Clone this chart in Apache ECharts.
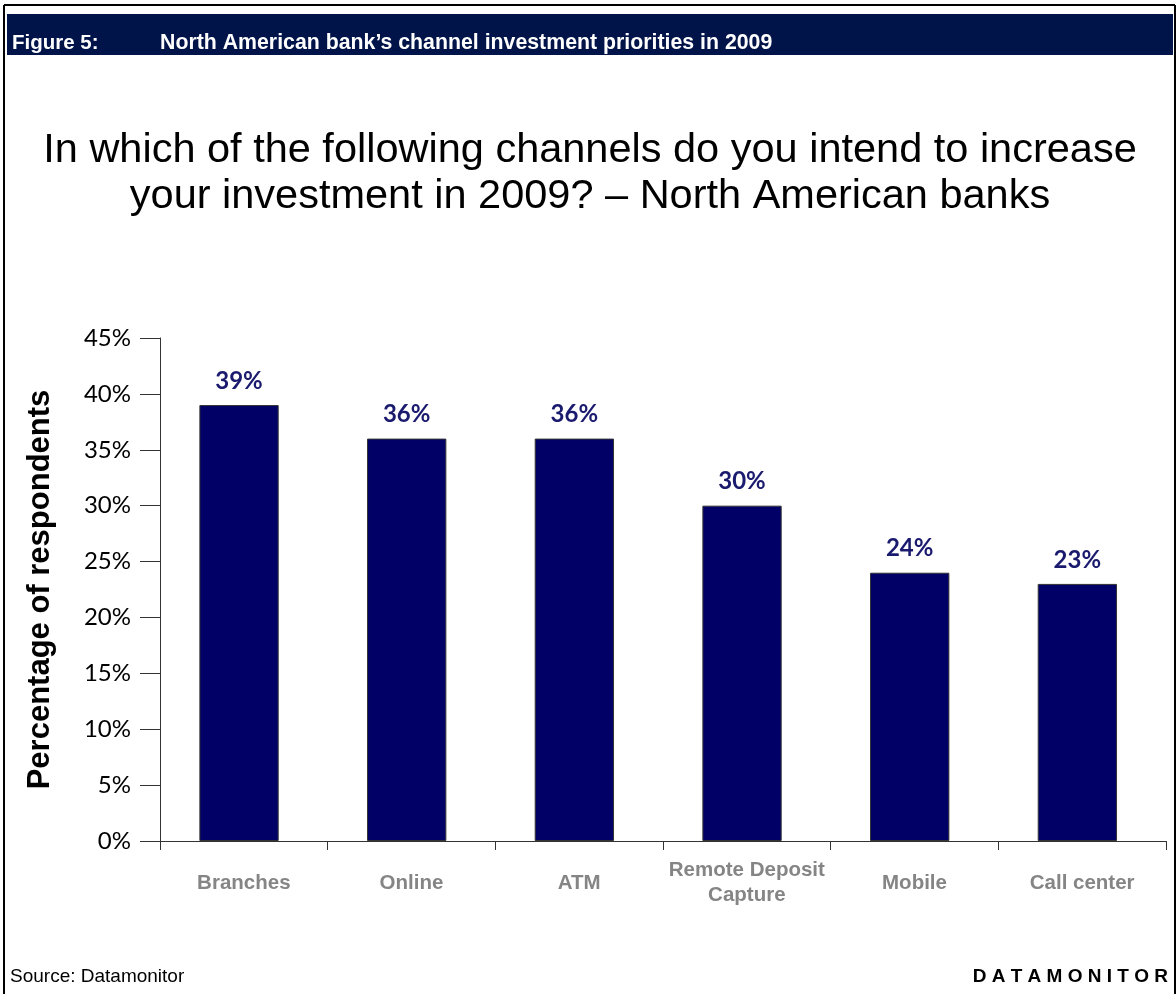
<!DOCTYPE html>
<html>
<head>
<meta charset="utf-8">
<script src="https://cdn.jsdelivr.net/npm/echarts@6/dist/echarts.min.js"></script>
<style>
  html, body { margin: 0; padding: 0; background: #fff; }
  #chart { width: 1176px; height: 994px; }
</style>
</head>
<body>
<div id="chart"></div>
<script>
// Channels and share of banks planning to increase investment (%)
const categories = ['Branches', 'Online', 'ATM', 'Remote Deposit\nCapture', 'Mobile', 'Call center'];
const values = [39, 36, 36, 30, 24, 23];
const yTicks = { min: 0, max: 45, interval: 5 };

const figureLabel = 'Figure 5:';
const figureCaption = 'North American bank\u2019s channel investment priorities in 2009';
const chartTitle = 'In which of the following channels do you intend to increase\nyour investment in 2009? \u2013 North American banks';
const yAxisTitle = 'Percentage of respondents';
const sourceText = 'Source: Datamonitor';
const brandText = 'D A T A M O N I T O R';

const ARIAL = '"Liberation Sans", Arial, sans-serif';
const AXIS_COLOR = '#333333';

const chart = echarts.init(document.getElementById('chart'), null, { renderer: 'canvas' });

chart.setOption({
  animation: false,
  backgroundColor: '#ffffff',
  title: {
    text: chartTitle,
    left: 585,
    top: 123,
    textAlign: 'center',
    textStyle: {
      fontFamily: ARIAL,
      fontSize: 41.5,
      fontWeight: 'normal',
      color: '#000000',
      lineHeight: 46
    }
  },
  // grid 0 carries the visible axes; grid 1 holds the bars, set slightly left of the category slots
  grid: [
    { left: 160, right: 10, top: 338, bottom: 153, containLabel: false },
    { left: 155.2, right: 14.8, top: 338, bottom: 153, containLabel: false }
  ],
  xAxis: [{
    gridIndex: 0,
    type: 'category',
    data: categories,
    axisLine: { lineStyle: { color: AXIS_COLOR, width: 1 } },
    axisTick: { show: true, length: 9, alignWithLabel: false, lineStyle: { color: AXIS_COLOR } },
    axisLabel: {
      margin: 42,
      verticalAlign: 'middle',
      fontFamily: ARIAL,
      fontWeight: 'bold',
      fontSize: 20.5,
      lineHeight: 25,
      color: '#858585',
      interval: 0
    }
  }, {
    gridIndex: 1,
    type: 'category',
    data: categories,
    show: false
  }],
  yAxis: [{
    gridIndex: 0,
    type: 'value',
    min: yTicks.min,
    max: yTicks.max,
    interval: yTicks.interval,
    name: yAxisTitle,
    nameLocation: 'middle',
    nameRotate: 90,
    nameGap: 104,
    nameTextStyle: {
      fontFamily: ARIAL,
      fontWeight: 'bold',
      fontSize: 31,
      color: '#000000'
    },
    splitLine: { show: false },
    axisLine: { show: true, lineStyle: { color: AXIS_COLOR, width: 1 } },
    axisTick: { show: true, length: 20, lineStyle: { color: AXIS_COLOR } },
    axisLabel: {
      margin: 29,
      formatter: '{value}%',
      fontFamily: 'Lato, sans-serif',
      fontSize: 24,
      color: '#000000'
    }
  }, {
    gridIndex: 1,
    type: 'value',
    min: yTicks.min,
    max: yTicks.max,
    interval: yTicks.interval,
    show: false,
    splitLine: { show: false }
  }],
  series: [{
    type: 'bar',
    xAxisIndex: 1,
    yAxisIndex: 1,
    data: values,
    barWidth: '47.3%',
    itemStyle: { color: '#000066', borderColor: '#333333', borderWidth: 1 },
    label: {
      show: true,
      position: 'top',
      distance: 12,
      formatter: '{c}%',
      fontFamily: 'Lato, sans-serif',
      fontWeight: 'bold',
      fontSize: 24,
      color: '#1a1a6e'
    }
  }],
  graphic: [
    // outer frame
    { type: 'line', shape: { x1: 4, y1: 5, x2: 1175, y2: 5 }, style: { stroke: '#000', lineWidth: 2 } },
    { type: 'line', shape: { x1: 4, y1: 5, x2: 4, y2: 994 }, style: { stroke: '#000', lineWidth: 2 } },
    { type: 'line', shape: { x1: 1175, y1: 5, x2: 1175, y2: 994 }, style: { stroke: '#000', lineWidth: 2 } },
    // caption band
    { type: 'rect', shape: { x: 7, y: 14, width: 1166, height: 41 }, style: { fill: '#001449' } },
    {
      type: 'text', x: 12, y: 43,
      style: { text: figureLabel, fill: '#ffffff', font: 'bold 20.5px ' + ARIAL, verticalAlign: 'middle' }
    },
    {
      type: 'text', x: 160, y: 43,
      style: { text: figureCaption, fill: '#ffffff', font: 'bold 21.3px ' + ARIAL, verticalAlign: 'middle' }
    },
    // footer
    {
      type: 'text', x: 10, y: 977,
      style: { text: sourceText, fill: '#000000', font: '19px ' + ARIAL, verticalAlign: 'middle' }
    },
    {
      type: 'text', x: 1168, y: 977,
      style: { text: brandText, fill: '#000000', font: 'bold 19px ' + ARIAL, align: 'right', verticalAlign: 'middle' }
    }
  ]
});
</script>
</body>
</html>
